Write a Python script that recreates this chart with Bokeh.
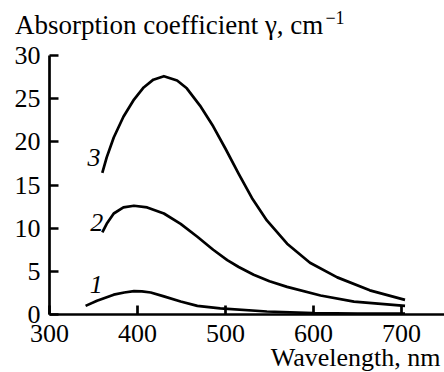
from bokeh.plotting import figure
from bokeh.models import Label, FixedTicker, Range1d
from bokeh.embed import file_html
from bokeh.resources import INLINE

# Wavelength (nm) and absorption coefficient (cm^-1)
wl1 = [341, 354, 373, 385, 396, 405, 415, 430, 449, 468, 494, 547, 600, 650, 704]
g1 = [1.0, 1.6, 2.3, 2.55, 2.7, 2.68, 2.55, 2.1, 1.5, 1.0, 0.7, 0.35, 0.15, 0.1, 0.1]

wl2 = [360, 365, 373, 384, 396, 411, 430, 449, 468, 486, 502, 515, 532, 550, 570, 608, 646, 704]
g2 = [9.5, 10.5, 11.7, 12.4, 12.6, 12.4, 11.7, 10.5, 9.0, 7.5, 6.3, 5.5, 4.6, 3.85, 3.2, 2.2, 1.5, 1.0]

wl3 = [360, 365, 373, 384, 396, 407, 418, 430, 445, 456, 471, 486, 500, 515, 530, 547, 570, 596, 627, 664, 704]
g3 = [16.4, 18.2, 20.5, 22.9, 24.9, 26.3, 27.2, 27.6, 27.1, 26.2, 24.2, 21.8, 19.2, 16.3, 13.5, 10.9, 8.2, 6.0, 4.3, 2.8, 1.7]

x_ticks = [300, 400, 500, 600, 700]
y_ticks = [0, 5, 10, 15, 20, 25, 30]
curve_names = ["1", "2", "3"]

FONT = "Liberation Serif"

# the frame fills the whole canvas; axes sit at fixed data locations
p = figure(width=444, height=372, output_backend="svg", toolbar_location=None,
           x_range=Range1d(244.32, 748.86), y_range=Range1d(-6.718, 36.371),
           min_border_left=0, min_border_right=0, min_border_top=0, min_border_bottom=0)
p.outline_line_color = None
p.grid.visible = False
p.background_fill_color = "white"
p.border_fill_color = "white"

for ax in (p.xaxis[0], p.yaxis[0]):
    ax.axis_line_width = 2.7
    ax.axis_line_color = "black"
    ax.major_tick_line_width = 2.7
    ax.major_tick_line_color = "black"
    ax.major_tick_in = 9
    ax.major_tick_out = 0
    ax.minor_tick_line_color = None
    ax.major_label_text_font = FONT
    ax.major_label_text_font_size = "26px"
    ax.major_label_text_color = "black"

xa = p.xaxis[0]
ya = p.yaxis[0]
xa.ticker = FixedTicker(ticks=x_ticks)
ya.ticker = FixedTicker(ticks=y_ticks)
xa.fixed_location = 0
ya.fixed_location = 300
xa.bounds = (300, 748.86)
ya.bounds = (0, 30)
xa.major_label_standoff = 10
ya.major_label_standoff = 9

for wl, g in ((wl1, g1), (wl2, g2), (wl3, g3)):
    p.line(wl, g, line_color="black", line_width=2.7, line_join="round")

# curve numbers (italic)
for name, (lx, ly) in zip(curve_names, [(353.2, 3.42), (353.8, 10.67), (350.6, 18.22)]):
    p.add_layout(Label(x=lx, y=ly, text=name, text_font=FONT, text_font_size="26px",
                       text_font_style="italic", text_align="center",
                       text_baseline="alphabetic", text_color="black"))

# axis captions
p.add_layout(Label(x=260.8, y=33.56, text="Absorption coefficient \u03b3, cm",
                   text_font=FONT, text_font_size="27px", text_align="left",
                   text_baseline="alphabetic", text_color="black"))
p.add_layout(Label(x=613.6, y=34.36, text="\u22121",
                   text_font=FONT, text_font_size="18px", text_align="left",
                   text_baseline="alphabetic", text_color="black"))
p.add_layout(Label(x=744.3, y=-4.98, text="Wavelength, nm",
                   text_font=FONT, text_font_size="26px", text_align="right",
                   text_baseline="alphabetic", text_color="black"))

open("out.html", "w").write(file_html(p, INLINE))
